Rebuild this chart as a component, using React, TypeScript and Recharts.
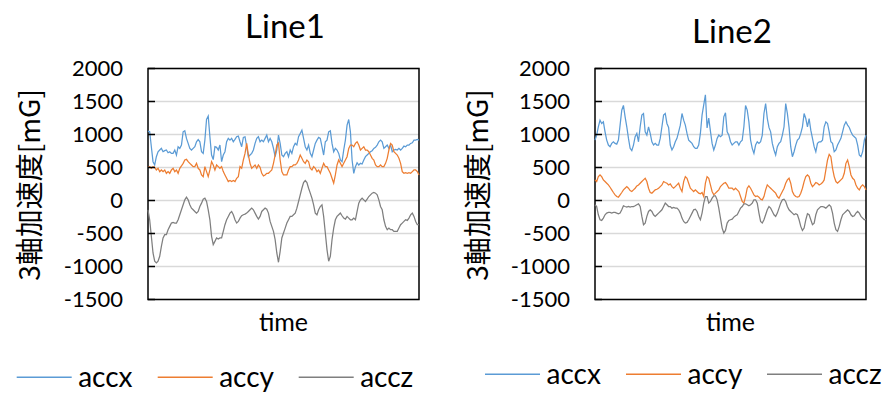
import React from 'react';
import { LineChart, Line, XAxis, YAxis, CartesianGrid, ReferenceArea } from 'recharts';

const yTicks = [-1500, -1000, -500, 0, 500, 1000, 1500, 2000];
const seriesNames = ['accx', 'accy', 'accz'];
const seriesColors = ['#5b9bd5', '#ed7d31', '#7f7f7f'];
const chartTitles = ['Line1', 'Line2'];
const yAxisTitle = '3軸加速度[mG]';
const xAxisTitle = 'time';

const line1Accx = [
  1051, 1041, 815, 588, 540, 664, 739, 765, 790, 739,
  755, 765, 724, 739, 714, 714, 765, 689, 815, 790,
  840, 1041, 1056, 941, 865, 790, 765, 790, 815, 890,
  925, 890, 739, 714, 915, 1230, 1280, 966, 689, 620,
  815, 805, 765, 840, 588, 689, 739, 890, 941, 915,
  941, 890, 925, 966, 976, 890, 815, 956, 966, 815,
  664, 689, 714, 765, 865, 941, 966, 890, 915, 890,
  941, 991, 890, 941, 890, 790, 664, 765, 991, 865,
  689, 664, 714, 739, 664, 765, 714, 815, 865, 840,
  966, 1016, 1066, 941, 815, 765, 840, 714, 664, 765,
  865, 915, 956, 941, 815, 689, 890, 915, 1041, 1056,
  865, 739, 790, 765, 714, 614, 588, 765, 915, 1142,
  1227, 1041, 614, 412, 513, 573, 538, 563, 553, 614,
  664, 689, 714, 739, 755, 790, 805, 840, 890, 915,
  890, 790, 815, 840, 790, 840, 739, 765, 775, 765,
  790, 765, 790, 825, 815, 840, 840, 865, 875, 915,
  915, 925, 915,
];
const line1Accy = [
  503, 513, 488, 513, 503, 463, 488, 438, 463, 438,
  463, 412, 438, 412, 463, 488, 438, 463, 412, 488,
  523, 563, 614, 624, 588, 563, 538, 513, 513, 563,
  488, 463, 387, 362, 513, 438, 362, 463, 588, 538,
  463, 538, 513, 488, 513, 438, 387, 337, 287, 302,
  287, 302, 287, 337, 362, 513, 488, 614, 714, 865,
  689, 563, 488, 513, 538, 488, 538, 503, 412, 372,
  387, 412, 412, 438, 463, 563, 689, 840, 870, 614,
  438, 387, 387, 387, 463, 513, 513, 538, 538, 563,
  614, 689, 639, 588, 563, 614, 588, 488, 463, 513,
  488, 438, 463, 412, 488, 563, 513, 513, 463, 412,
  337, 262, 387, 538, 614, 563, 513, 563, 614, 664,
  790, 840, 840, 815, 865, 890, 840, 765, 790, 815,
  765, 765, 739, 689, 639, 614, 538, 513, 513, 538,
  513, 513, 563, 639, 765, 865, 840, 739, 714, 689,
  639, 563, 438, 412, 422, 412, 422, 412, 438, 463,
  463, 438, 387,
];
const line1Accz = [
  -141, -292, -543, -795, -920, -946, -920, -845, -694, -568,
  -518, -518, -443, -392, -342, -332, -342, -342, -292, -216,
  -141, -65, 10, 50, 10, -65, -116, -141, -166, -191,
  -166, -91, -40, 20, 35, -15, -141, -292, -543, -669,
  -619, -568, -583, -568, -568, -468, -367, -292, -241, -191,
  -166, -216, -292, -342, -317, -267, -231, -216, -206, -191,
  -166, -141, -116, -141, -191, -241, -282, -241, -166, -141,
  -116, -131, -191, -317, -392, -468, -594, -795, -936, -770,
  -568, -493, -418, -342, -292, -241, -241, -216, -191, -116,
  -15, 86, 186, 272, 302, 272, 186, 111, 35, -65,
  -191, -216, -141, -91, -65, -241, -493, -744, -920, -845,
  -594, -418, -292, -241, -216, -191, -231, -267, -282, -241,
  -267, -292, -292, -267, -292, -166, -40, 10, 35, 10,
  -15, 20, 60, 86, 111, 121, 111, 86, 10, -91,
  -141, -292, -392, -443, -418, -443, -443, -468, -468, -468,
  -418, -367, -342, -317, -292, -302, -267, -216, -191, -241,
  -317, -367, -367,
];

const line2Accx = [
  915, 991, 1117, 1217, 1167, 1192, 1041, 915, 840, 815,
  865, 890, 865, 855, 915, 1142, 1368, 1440, 1268, 1117,
  941, 790, 755, 840, 966, 1016, 890, 1117, 1293, 1318,
  1041, 991, 1117, 1016, 890, 840, 865, 840, 840, 941,
  1117, 1293, 1318, 1167, 1107, 840, 765, 815, 890, 941,
  1041, 1142, 1318, 1217, 1142, 1016, 915, 890, 865, 815,
  790, 790, 840, 1016, 1293, 1450, 1600, 1100, 1250, 1050,
  865, 765, 840, 941, 991, 966, 991, 1268, 1328, 1041,
  991, 890, 840, 865, 890, 890, 840, 890, 915, 1117,
  1440, 1370, 1192, 915, 790, 714, 840, 890, 865, 890,
  991, 1318, 1470, 1242, 1107, 1041, 865, 765, 689, 815,
  865, 890, 991, 1117, 1469, 1318, 1107, 815, 664, 739,
  840, 915, 941, 1016, 1117, 1318, 1242, 1117, 1242, 1066,
  941, 815, 739, 865, 890, 890, 915, 1117, 1192, 1167,
  1041, 890, 865, 739, 765, 840, 890, 941, 1041, 1142,
  1192, 1142, 1107, 1041, 991, 966, 941, 840, 689, 664,
  739, 915, 991,
];
const line2Accy = [
  312, 287, 362, 387, 362, 312, 287, 262, 236, 201,
  161, 121, 86, 60, 50, 86, 121, 161, 186, 211,
  186, 151, 136, 161, 186, 221, 236, 262, 287, 312,
  337, 287, 186, 121, 111, 136, 161, 171, 186, 211,
  236, 287, 272, 262, 236, 251, 211, 186, 211, 236,
  262, 186, 136, 287, 362, 337, 262, 186, 161, 136,
  161, 136, 111, 101, 121, 60, 262, 362, 337, 236,
  136, 86, 111, 136, 161, 211, 236, 262, 272, 236,
  186, 186, 186, 161, 186, 161, 136, 60, -15, -40,
  60, 186, 221, 186, 136, 86, 60, 70, 50, 20,
  10, 60, 161, 236, 211, 186, 161, 136, 111, 60,
  35, 86, 136, 186, 262, 312, 337, 262, 136, 86,
  60, 50, 60, 111, 186, 287, 362, 387, 362, 262,
  211, 236, 272, 262, 236, 251, 272, 312, 463, 614,
  699, 664, 488, 362, 287, 262, 287, 312, 337, 412,
  563, 614, 513, 387, 337, 312, 236, 186, 161, 211,
  236, 211, 161,
];
const line2Accz = [
  -65, -91, -216, -292, -302, -267, -216, -191, -181, -181,
  -191, -181, -181, -191, -201, -191, -141, -80, -91, -101,
  -91, -101, -91, -91, -80, -65, -50, -91, -241, -367,
  -342, -241, -166, -141, -166, -216, -241, -216, -191, -166,
  -141, -91, -40, -65, -91, -91, -116, -106, -116, -116,
  -141, -191, -267, -317, -342, -332, -292, -241, -191, -141,
  -131, -166, -241, -292, -191, -40, 60, 60, -40, -15,
  35, 70, 70, 10, -116, -267, -418, -493, -453, -342,
  -302, -292, -282, -252, -231, -216, -166, -116, -91, -50,
  -50, -65, -80, -65, -40, 10, 10, -40, -191, -317,
  -342, -292, -216, -141, -91, -116, -166, -216, -241, -191,
  -116, -40, 10, 20, -15, -91, -141, -166, -191, -216,
  -201, -216, -292, -392, -453, -418, -292, -201, -216, -292,
  -367, -342, -216, -141, -116, -91, -91, -101, -116, -91,
  -65, -91, -191, -342, -443, -468, -392, -292, -216, -191,
  -166, -141, -166, -216, -241, -231, -191, -166, -191, -241,
  -267, -292, -282,
];

type Row = { t: number; accx: number; accy: number; accz: number };
const toRows = (x: number[], y: number[], z: number[]): Row[] =>
  x.map((v, i) => ({ t: i, accx: v, accy: y[i], accz: z[i] }));

const rows1 = toRows(line1Accx, line1Accy, line1Accz);
const rows2 = toRows(line2Accx, line2Accy, line2Accz);

const TICK_MARGIN = 25;
const TICK_LEN = 7;
const LATIN = 'Lato, "Open Sans", sans-serif';

const AxisTick = (props: any) => {
  const { x, y, payload } = props;
  return (
    <g>
      <text x={x} y={y} dy="0.36em" textAnchor="end" fontFamily={LATIN} fontSize={22} fill="#000">
        {payload.value}
      </text>
      <line x1={x + TICK_MARGIN} x2={x + TICK_MARGIN + TICK_LEN} y1={y} y2={y} stroke="#000" strokeWidth={1.5} />
    </g>
  );
};

function Panel({ rows, width, marginRight }: { rows: Row[]; width: number; marginRight: number }) {
  const last = rows.length - 1;
  return (
    <LineChart width={width} height={394} data={rows} margin={{ top: 68.5, right: marginRight, bottom: 94.5, left: 0 }}>
      <CartesianGrid vertical={false} stroke="#d9d9d9" strokeWidth={1.5} />
      <XAxis dataKey="t" type="number" domain={[0, last]} hide />
      <YAxis
        type="number"
        domain={[-1500, 2000]}
        ticks={yTicks}
        interval={0}
        width={148}
        axisLine={false}
        tickLine={false}
        tickSize={0}
        tickMargin={TICK_MARGIN}
        tick={AxisTick}
      />
      {seriesNames.map((name, i) => (
        <Line
          key={name}
          type="linear"
          dataKey={name}
          stroke={seriesColors[i]}
          strokeWidth={1.25}
          dot={false}
          activeDot={false}
          isAnimationActive={false}
        />
      ))}
      <ReferenceArea x1={0} x2={last} y1={-1500} y2={2000} fill="none" stroke="#000" strokeWidth={1.5} ifOverflow="visible" />
    </LineChart>
  );
}

const legendStarts = [16.7, 485];
const legendLineY = [377.3, 374.3];
const legendTextY = [387.3, 384];
const LEGEND_STEP = 141;
const LEGEND_LINE = 55;

export default function App() {
  return (
    <div style={{ position: 'absolute', left: 0, top: 0, width: 887, height: 394, background: '#fff', overflow: 'hidden' }}>
      <div style={{ position: 'absolute', left: 0, top: 0 }}>
        <Panel rows={rows1} width={447} marginRight={28} />
      </div>
      <div style={{ position: 'absolute', left: 447, top: 0 }}>
        <Panel rows={rows2} width={440} marginRight={21} />
      </div>
      <svg width={887} height={394} style={{ position: 'absolute', left: 0, top: 0, pointerEvents: 'none' }}>
        <text x={285} y={38.3} textAnchor="middle" fontFamily={LATIN} fontSize={33} fill="#000">{chartTitles[0]}</text>
        <text x={732} y={43} textAnchor="middle" fontFamily={LATIN} fontSize={33} fill="#000">{chartTitles[1]}</text>
        {[28, 476].map((cx, k) => (
          <text
            key={'yl' + k}
            x={cx}
            y={185}
            transform={`rotate(-90 ${cx} 185)`}
            textAnchor="middle"
            dominantBaseline="central"
            fontFamily='"Noto Sans CJK JP", sans-serif'
            fontSize={28}
            fill="#000"
          >
            {yAxisTitle}
          </text>
        ))}
        {[283.5, 730.5].map((cx, k) => (
          <text key={'xl' + k} x={cx} y={331} textAnchor="middle" fontFamily={LATIN} fontSize={25} fill="#000">
            {xAxisTitle}
          </text>
        ))}
        {legendStarts.map((start, k) =>
          seriesNames.map((name, i) => {
            const lx = start + i * LEGEND_STEP;
            return (
              <g key={`lg${k}-${i}`}>
                <line x1={lx} x2={lx + LEGEND_LINE} y1={legendLineY[k]} y2={legendLineY[k]} stroke={seriesColors[i]} strokeWidth={1.5} />
                <text x={lx + LEGEND_LINE + 6.5} y={legendTextY[k]} fontFamily={LATIN} fontSize={28} fill="#000">
                  {name}
                </text>
              </g>
            );
          })
        )}
      </svg>
    </div>
  );
}
